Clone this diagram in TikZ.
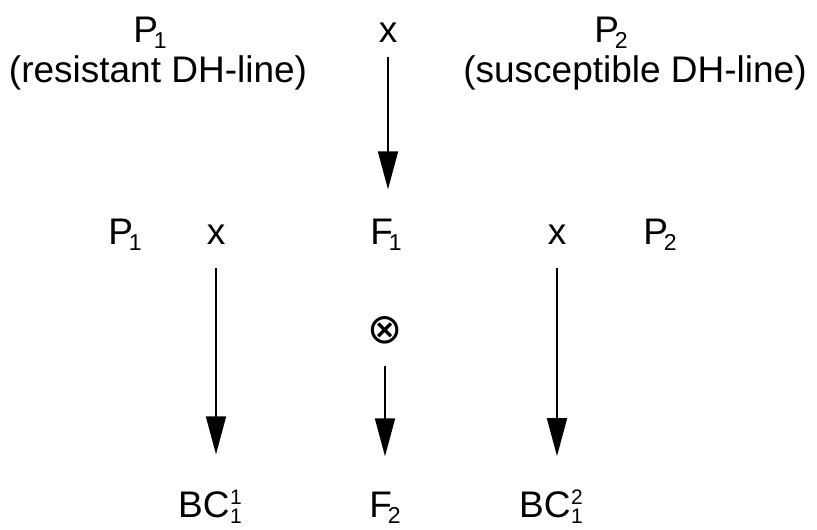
\documentclass[tikz,border=0pt]{standalone}
\usepackage{fontspec}
\setmainfont{Liberation Sans}
\newfontfamily\symbolfont{DejaVu Sans}
\usetikzlibrary{arrows.meta}

% subscript tucked under its letter
\newcommand\lowidx[1]{\kern-4pt\raisebox{-6pt}{\fontsize{23}{23}\selectfont #1}}
% superscript stacked over a subscript
\newcommand\stackidx[2]{\kern0.5pt\makebox[0pt][l]{\raisebox{13pt}{\fontsize{21}{21}\selectfont #1}}\raisebox{-6pt}{\fontsize{21}{21}\selectfont #2}\kern12pt}

\tikzset{
  lbl/.style={inner sep=0pt, anchor=base, font=\fontsize{37}{40}\selectfont},
  arr/.style={line width=1.8pt, -{Triangle[length=38pt, width=20pt]}},
}

\begin{document}
\begin{tikzpicture}[x=1pt, y=-1pt]
  \useasboundingbox (0,0) rectangle (817,530);

  % parental lines and the first cross
  \node[lbl] (p1top) at (150,42) {P\lowidx{1}};
  \node[lbl] (res) at (158,82) {(resistant DH-line)};
  \node[lbl] (xtop) at (388,42) {x};
  \node[lbl] (p2top) at (611,42) {P\lowidx{2}};
  \node[lbl] (sus) at (635,82) {(susceptible DH-line)};

  % second row: backcrosses and selfing of F1
  \node[lbl] (p1mid) at (125,244) {P\lowidx{1}};
  \node[lbl] (xleft) at (216,244) {x};
  \node[lbl] (f1) at (386,244) {F\lowidx{1}};
  \node[lbl] (xright) at (557,244) {x};
  \node[lbl] (p2mid) at (660,244) {P\lowidx{2}};

  \node[inner sep=0pt, font=\symbolfont\fontsize{42}{42}\selectfont] (self) at (385,330) {⊗};

  % offspring
  \node[lbl] (bc1) at (216,517) {BC\stackidx{1}{1}};
  \node[lbl] (f2) at (385,517) {F\lowidx{2}};
  \node[lbl] (bc2) at (557,517) {BC\stackidx{2}{1}};

  % connectors
  \draw[arr, shorten <=15pt, shorten >=29pt] (xtop.south) -- (xtop.south |- f1.north);
  \draw[arr, shorten <=24pt, shorten >=35pt] (xleft.south) -- (xleft.south |- bc1.north);
  \draw[arr, shorten <=22pt, shorten >=35pt] (self.south) -- (self.south |- f2.north);
  \draw[arr, shorten <=24pt, shorten >=33pt] (xright.south) -- (xright.south |- bc2.north);
\end{tikzpicture}
\end{document}
